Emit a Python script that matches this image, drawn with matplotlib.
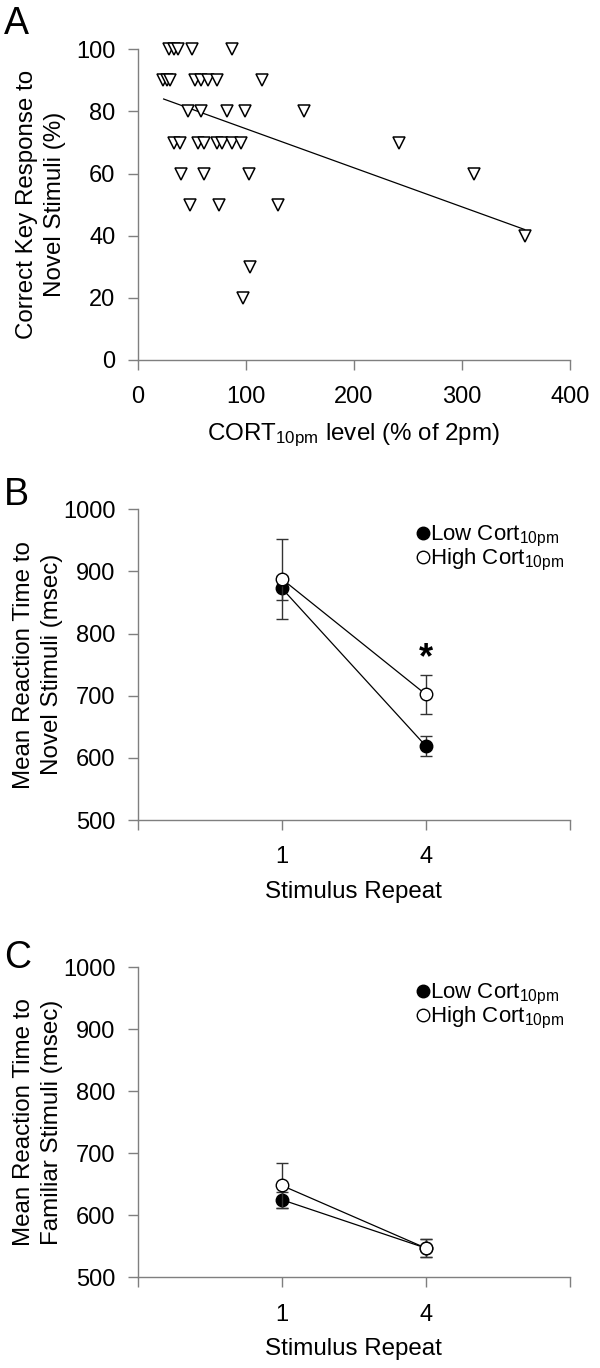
import numpy as np
import matplotlib
matplotlib.use("Agg")
import matplotlib.pyplot as plt
from matplotlib.lines import Line2D

plt.rcParams['font.family'] = ['Liberation Sans', 'DejaVu Sans']
plt.rcParams['mathtext.fontset'] = 'custom'
plt.rcParams['mathtext.rm'] = 'Liberation Sans'
plt.rcParams['mathtext.it'] = 'Liberation Sans'

# ---------------- Panel A data ----------------
cort_level = [29, 34, 37, 50, 87,
              23, 27, 30, 53, 59, 65, 73, 115,
              47, 59, 83, 99, 154,
              34, 39, 56, 61, 73, 78, 87, 96, 242,
              40, 61, 103, 311,
              48, 75, 130,
              358, 104, 97]
correct_pct = [100, 100, 100, 100, 100,
               90, 90, 90, 90, 90, 90, 90, 90,
               80, 80, 80, 80, 80,
               70, 70, 70, 70, 70, 70, 70, 70, 70,
               60, 60, 60, 60,
               50, 50, 50,
               40, 30, 20]
fit_x = [24, 358]
fit_y = [84, 42]

# ---------------- Panels B / C data ----------------
repeat_labels = ['1', '4']
novel_low = [873, 619]
novel_low_err = [19, 16]
novel_high = [888, 702]
novel_high_err = [65, 31]
sig_label = '*'
sig_repeat = 1          # index into repeat_labels
sig_y = 760

fam_low = [625, 547]
fam_low_err = [13, 15]
fam_high = [648, 547]
fam_high_err = [36, 15]

W, H = 600, 1368
fig = plt.figure(figsize=(W / 100, H / 100), dpi=100)

FS = 17
LFS = 17.4
SPINE = '#7f7f7f'
AX_L, AX_R = 137.7, 570

def px_axes(left, right, top, bottom):
    return fig.add_axes([left / W, 1 - bottom / H, (right - left) / W, (bottom - top) / H])

def style(ax):
    for s in ['top', 'right']:
        ax.spines[s].set_visible(False)
    for s in ['left', 'bottom']:
        ax.spines[s].set_color(SPINE)
        ax.spines[s].set_linewidth(1.0)
    ax.tick_params(axis='both', direction='out', length=7, width=1.0, color=SPINE,
                   labelsize=FS, labelcolor='black')
    ax.tick_params(axis='y', pad=9)
    ax.tick_params(axis='x', pad=12)
    ax.patch.set_alpha(0)

def place_labels(ax, right_px):
    ylab_x = (right_px - AX_L) / (AX_R - AX_L)
    ax.yaxis.set_label_coords(ylab_x, 0.5)
    ax.xaxis.set_label_coords(0.5, -0.197)

# ---- Panel A ----
axA = px_axes(AX_L, AX_R, 49.3, 360)
style(axA)
axA.plot(cort_level, correct_pct, linestyle='none', marker='v', markersize=8,
         markerfacecolor='white', markeredgecolor='black', markeredgewidth=1.1, clip_on=False, zorder=3)
axA.plot(fit_x, fit_y, color='black', linewidth=0.9, zorder=2)
axA.set_xlim(0, 400)
axA.set_ylim(0, 100)
axA.set_xticks([0, 100, 200, 300, 400])
axA.set_yticks([0, 20, 40, 60, 80, 100])
axA.set_xlabel('CORT$_{\\mathrm{10pm}}$ level (% of 2pm)', fontsize=LFS)
axA.set_ylabel('Correct Key Response to\nNovel Stimuli (%)', fontsize=LFS, linespacing=1.38)
place_labels(axA, 66)

def rt_panel(ax, low, low_err, high, high_err, ylabel):
    style(ax)
    xpos = np.arange(1, len(repeat_labels) + 1)
    ax.errorbar(xpos, low, yerr=low_err, color='black', linewidth=0.9, elinewidth=1.0,
                ecolor='#333333', capsize=4, capthick=1.0, marker='o', markersize=9,
                markerfacecolor='black', markeredgecolor='black', zorder=3)
    ax.errorbar(xpos, high, yerr=high_err, color='black', linewidth=0.9, elinewidth=1.0,
                ecolor='#333333', capsize=4, capthick=1.0, marker='o', markersize=9,
                markerfacecolor='white', markeredgecolor='black', markeredgewidth=1.0, zorder=4)
    ax.set_xlim(0, len(repeat_labels) + 1)
    ax.set_ylim(500, 1000)
    ax.set_yticks([500, 600, 700, 800, 900, 1000])
    ax.set_xticks(np.arange(0, len(repeat_labels) + 2))
    ax.set_xticklabels([''] + repeat_labels + [''])
    ax.set_xlabel('Stimulus Repeat', fontsize=LFS)
    ax.set_ylabel(ylabel, fontsize=LFS, linespacing=1.38)
    place_labels(ax, 63)
    handles = [Line2D([], [], linestyle='none', marker='o', markersize=9,
                      markerfacecolor='black', markeredgecolor='black'),
               Line2D([], [], linestyle='none', marker='o', markersize=9,
                      markerfacecolor='white', markeredgecolor='black')]
    ax.legend(handles, ['Low Cort$_{\\mathrm{10pm}}$', 'High Cort$_{\\mathrm{10pm}}$'],
              loc='upper left', bbox_to_anchor=(0.647, 0.952), frameon=False,
              fontsize=FS - 1, handlelength=0.5, handletextpad=0.05,
              borderpad=0, borderaxespad=0, labelspacing=-0.09)

axB = px_axes(AX_L, AX_R, 509.3, 820)
rt_panel(axB, novel_low, novel_low_err, novel_high, novel_high_err,
         'Mean Reaction Time to\nNovel Stimuli (msec)')
axB.text(1 + sig_repeat, sig_y, sig_label, ha='center', va='center', fontsize=26,
         fontweight='bold')

axC = px_axes(AX_L, AX_R, 967, 1277.3)
rt_panel(axC, fam_low, fam_low_err, fam_high, fam_high_err,
         'Mean Reaction Time to\nFamiliar Stimuli (msec)')

for letter, y in [('A', 6), ('B', 477), ('C', 940)]:
    fig.text(4 / W, 1 - y / H, letter, fontsize=27, ha='left', va='top')

fig.savefig('out.png', dpi=100)
